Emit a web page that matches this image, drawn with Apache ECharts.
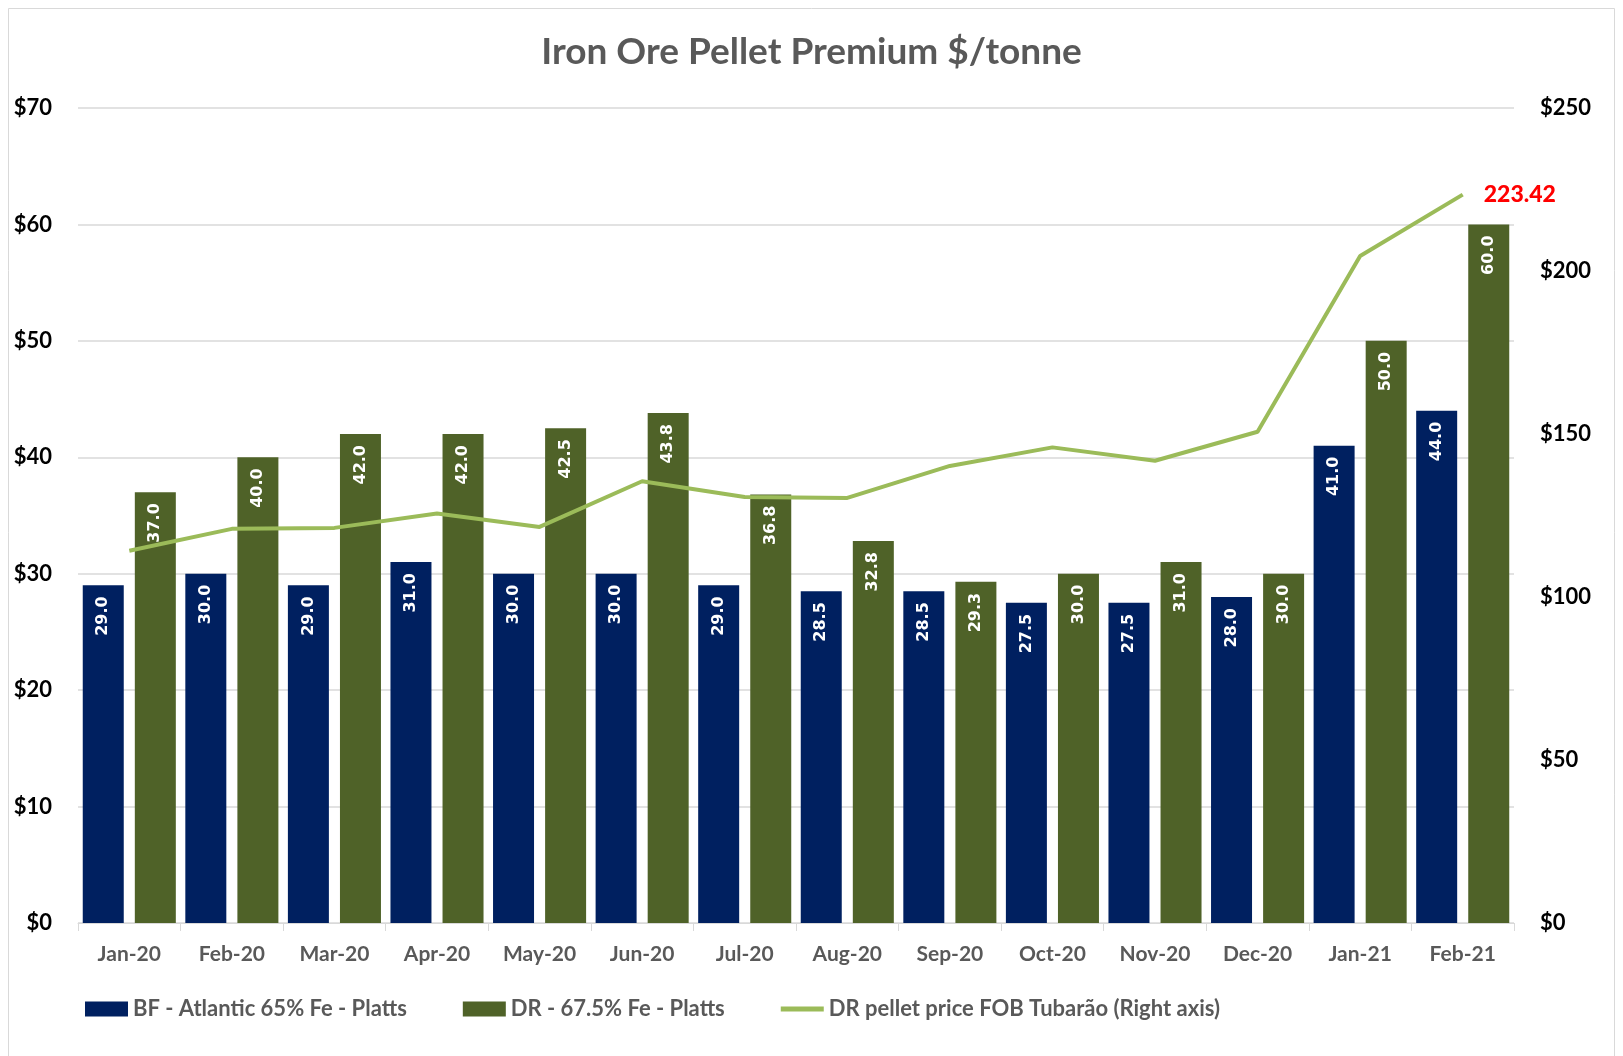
<!DOCTYPE html>
<html>
<head>
<meta charset="utf-8">
<script src="https://cdn.jsdelivr.net/npm/echarts@6/dist/echarts.min.js"></script>
<style>
  html, body { margin: 0; padding: 0; background: #fff; }
  #chart { width: 1623px; height: 1056px; }
</style>
</head>
<body>
<div id="chart"></div>
<script>
const months = ['Jan-20', 'Feb-20', 'Mar-20', 'Apr-20', 'May-20', 'Jun-20', 'Jul-20',
  'Aug-20', 'Sep-20', 'Oct-20', 'Nov-20', 'Dec-20', 'Jan-21', 'Feb-21'];
const bfPremium = [29.0, 30.0, 29.0, 31.0, 30.0, 30.0, 29.0, 28.5, 28.5, 27.5, 27.5, 28.0, 41.0, 44.0];
const drPremium = [37.0, 40.0, 42.0, 42.0, 42.5, 43.8, 36.8, 32.8, 29.3, 30.0, 31.0, 30.0, 50.0, 60.0];
const drPrice = [114.2, 120.9, 121.2, 125.6, 121.5, 135.5, 130.7, 130.4, 140.2, 145.9, 141.8, 150.7, 204.6, 223.42];

const font = 'Lato, "Noto Sans", sans-serif';

const chart = echarts.init(document.getElementById('chart'));

const barLabel = {
  show: true,
  position: 'insideTop',
  rotate: 90,
  align: 'right',
  verticalAlign: 'middle',
  distance: 11,
  color: '#fff',
  fontFamily: '"DejaVu Sans", sans-serif',
  fontWeight: 'bold',
  fontSize: 16,
  formatter: p => p.value.toFixed(1)
};

const lineName = 'DR pellet price FOB Tubarão (Right axis)';

const option = {
  backgroundColor: '#fff',
  animation: false,
  title: {
    text: 'Iron Ore Pellet Premium $/tonne',
    left: 'center',
    top: 29,
    textStyle: { fontFamily: font, fontWeight: 'bold', fontSize: 37, color: '#595959' }
  },
  graphic: [{
    type: 'rect',
    shape: { x: 8.5, y: 8.5, width: 1606, height: 1070 },
    style: { fill: 'none', stroke: '#d9d9d9', lineWidth: 1 },
    silent: true
  }],
  legend: {
    left: 80,
    top: 993,
    itemWidth: 43,
    itemHeight: 15,
    itemGap: 56,
    data: [
      { name: 'BF - Atlantic 65% Fe - Platts', icon: 'rect' },
      { name: 'DR - 67.5% Fe - Platts', icon: 'rect' },
      { name: lineName, icon: 'path://M0,0 L43,0 L43,5 L0,5 Z' }
    ],
    textStyle: { fontFamily: font, fontWeight: 'bold', fontSize: 22, color: '#595959' }
  },
  grid: { left: 78, right: 109, top: 108, bottom: 133 },
  xAxis: {
    type: 'category',
    data: months,
    axisLine: { lineStyle: { color: '#d9d9d9' } },
    axisTick: { show: true, length: 8, lineStyle: { color: '#d9d9d9' } },
    axisLabel: { margin: 21, fontFamily: font, fontWeight: 'bold', fontSize: 21, color: '#595959' }
  },
  yAxis: [{
    type: 'value',
    min: 0, max: 70, interval: 10,
    position: 'left',
    axisLine: { show: false },
    axisTick: { show: false },
    splitLine: { lineStyle: { color: '#d9d9d9', width: 1.5 } },
    axisLabel: {
      formatter: '${value}', margin: 26, fontFamily: font, fontWeight: 'bold', fontSize: 22, color: '#000'
    }
  }, {
    type: 'value',
    min: 0, max: 250, interval: 50,
    position: 'right',
    axisLine: { show: false },
    axisTick: { show: false },
    splitLine: { show: false },
    axisLabel: {
      formatter: '${value}', margin: 26, fontFamily: font, fontWeight: 'bold', fontSize: 22, color: '#000'
    }
  }],
  series: [{
    name: 'BF - Atlantic 65% Fe - Platts',
    type: 'bar',
    data: bfPremium,
    barWidth: 41,
    barGap: '27%',
    itemStyle: { color: '#002060' },
    label: barLabel
  }, {
    name: 'DR - 67.5% Fe - Platts',
    type: 'bar',
    data: drPremium,
    barWidth: 41,
    barGap: '27%',
    itemStyle: { color: '#4f6228' },
    label: barLabel
  }, {
    name: lineName,
    type: 'line',
    yAxisIndex: 1,
    symbol: 'circle',
    symbolSize: 0.1,
    lineStyle: { color: '#9bbb59', width: 4 },
    itemStyle: { color: '#9bbb59' },
    data: drPrice.map((v, i) => i === drPrice.length - 1 ? {
      value: v,
      label: {
        show: true,
        position: 'right',
        distance: 21,
        formatter: '{c}',
        color: '#ff0000',
        fontFamily: font,
        fontWeight: 900,
        fontSize: 23
      }
    } : v)
  }]
};

chart.setOption(option);
</script>
</body>
</html>
